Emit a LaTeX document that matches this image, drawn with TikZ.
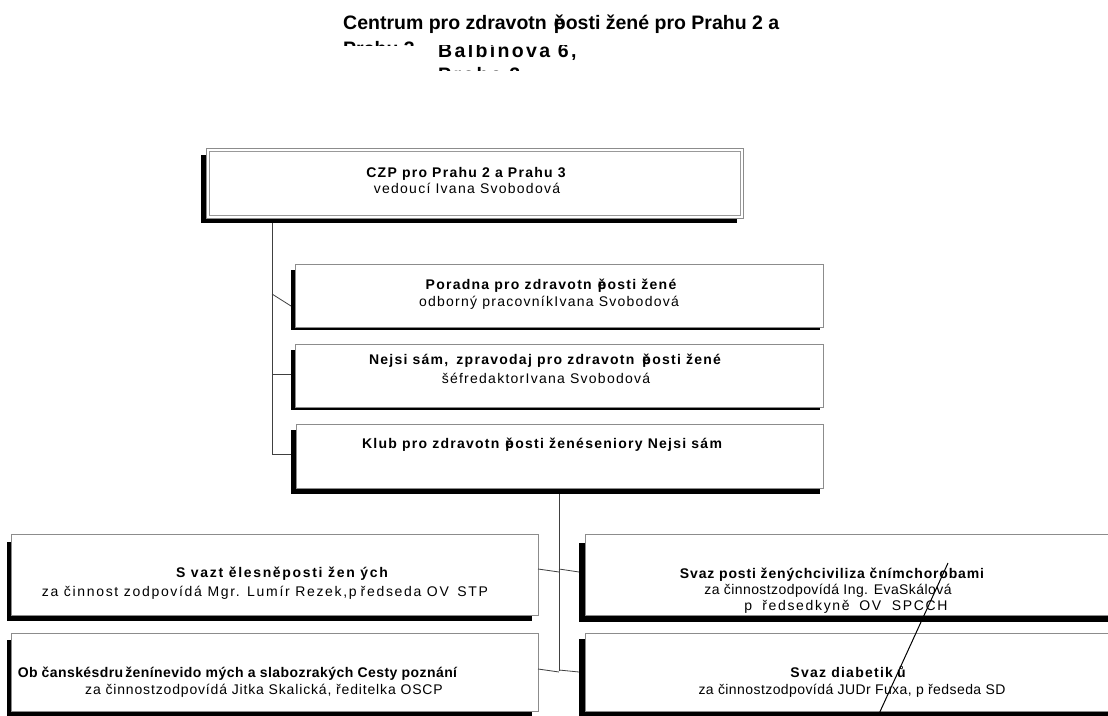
\documentclass[tikz,border=0pt]{standalone}
\usepackage{fontspec}
\setmainfont{Liberation Sans}
\newfontfamily\boxfont[LetterSpace=9]{Liberation Sans}
\newfontfamily\boxfontA[LetterSpace=3]{Liberation Sans}
\newfontfamily\boxfontB[LetterSpace=6]{Liberation Sans}
\newfontfamily\boxfontC[LetterSpace=12]{Liberation Sans}
\newfontfamily\headfont[LetterSpace=0]{Liberation Sans}
\newfontfamily\headfontwide[LetterSpace=12]{Liberation Sans}
\usetikzlibrary{backgrounds,calc}
\tikzset{
  orgbox/.style={draw=black!45, line width=0.9pt, fill=white, inner sep=0pt, outer sep=0pt},
  ttl/.style={font=\boxfont\fontsize{14}{16}\selectfont\bfseries, inner sep=0pt, anchor=base},
  sub/.style={font=\boxfont\fontsize{14}{16}\selectfont, inner sep=0pt, anchor=base},
  ttltight/.style={ttl, font=\boxfontA\fontsize{14}{16}\selectfont\bfseries},
  ttlmid/.style={ttl, font=\boxfontB\fontsize{14}{16}\selectfont\bfseries},
  ttlwide/.style={ttl, font=\boxfontC\fontsize{14}{16}\selectfont\bfseries},
  subtight/.style={sub, font=\boxfontA\fontsize{14}{16}\selectfont},
  submid/.style={sub, font=\boxfontB\fontsize{14}{16}\selectfont},
  subwide/.style={sub, font=\boxfontC\fontsize{14}{16}\selectfont},
  headline/.style={font=\headfont\fontsize{19.5}{24}\selectfont\bfseries, inner sep=0pt, anchor=base west},
  headwide/.style={headline, font=\headfontwide\fontsize{19.5}{24}\selectfont\bfseries},
  conn/.style={draw=black!75, line width=0.8pt},
  slash/.style={draw=black, line width=1pt}
}
\begin{document}
\begin{tikzpicture}[x=1pt,y=-1pt]
\useasboundingbox (0,0) rectangle (1108,715);

% headline (two overlapping text boxes)
\begin{scope}
  \clip (330,2) rectangle (800,45.5);
  \node[headline] (h1) at (343,29) {Centrum pro zdravotn\hspace{7pt}\rlap{ě}posti žené pro Prahu 2 a};
  \node[headline] (h2) at (343,55) {Prahu 3};
\end{scope}
\begin{scope}
  \clip (430,45.5) rectangle (800,70.5);
  \node[headwide] (h3) at (438,57) {Balbínova 6,};
  \node[headwide] (h4) at (438,81) {Praha 2};
\end{scope}

% boxes
\node[orgbox, minimum width=537pt, minimum height=70pt] (czp) at (474.5,183) {};
\draw[draw=black!40, line width=0.7pt] ($(czp.north west)+(3,3.5)$) rectangle ($(czp.south east)+(-3,-3)$);
\node[orgbox, minimum width=528pt, minimum height=63pt] (poradna) at (559,295.5) {};
\node[orgbox, minimum width=528pt, minimum height=63pt] (nejsi) at (559,375.5) {};
\node[orgbox, minimum width=527pt, minimum height=64pt] (klub) at (559.5,456) {};
\node[orgbox, minimum width=527pt, minimum height=81pt] (stp) at (274.5,575) {};
\node[orgbox, minimum width=527pt, minimum height=78pt] (oscp) at (274.5,672) {};
\node[orgbox, minimum width=535pt, minimum height=81pt] (spcch) at (852.5,575) {};
\node[orgbox, minimum width=535pt, minimum height=78pt] (sd) at (852.5,672) {};

% page background and shadows
\begin{scope}[on background layer]
  \fill[white] (0,0) rectangle (1108,715);
  \fill ($(czp.north west)+(-5,7)$) rectangle ($(czp.south east)+(-6,5)$);
  \fill ($(poradna.north west)+(-4,6)$) rectangle ($(poradna.south east)+(-3,3)$);
  \fill ($(nejsi.north west)+(-4,6)$) rectangle ($(nejsi.south east)+(-3,2.5)$);
  \fill ($(klub.north west)+(-5,6)$) rectangle ($(klub.south east)+(-3,6)$);
  \fill ($(stp.north west)+(-4,7)$) rectangle ($(stp.south east)+(-6,5)$);
  \fill ($(oscp.north west)+(-4,7)$) rectangle ($(oscp.south east)+(-6,5)$);
  \fill ($(spcch.north west)+(-6,8)$) rectangle ($(spcch.south east)+(-6,6)$);
  \fill ($(sd.north west)+(-6,6)$) rectangle ($(sd.south east)+(-6,5)$);
\end{scope}

% texts
\node[ttl] (czpT) at (466,177) {CZP pro Prahu 2 a Prahu 3};
\node[sub] (czpS) at (467,193) {vedoucí Ivana Svobodová};

\node[ttl] (porT) at (551,289) {Poradna pro zdravotn\hspace{6pt}\rlap{ě}posti žené};
\node[sub] (porS) at (549,306) {odborný pracovníkIvana Svobodová};

\node[ttl] (nejT) at (545,364) {Nejsi sám,\hspace{3pt} zpravodaj pro zdravotn\hspace{8pt}\rlap{ě}posti žené};
\node[sub] (nejS) at (546,383) {šéfredaktorIvana Svobodová};

\node[ttl] (klubT) at (542,448) {Klub pro zdravotn\hspace{6pt}\rlap{ě}posti ženéseniory Nejsi sám};

\node[ttlwide] (stpT) at (282,577) {S vazt ělesněposti žen ých};
\node[subwide] (stpS) at (265,596) {za činnost zodpovídá Mgr. Lumír Rezek,p\hspace{4pt}ředseda OV\hspace{3pt} STP};

\node[ttltight] (oscpT) at (237.5,677) {Ob\hspace{4pt}čanskésdru\hspace{2pt}ženínevido mých a slabozrakých Cesty poznání};
\node[submid] (oscpS) at (264,694) {za činnostzodpovídá Jitka Skalická, ředitelka OSCP};

\node[ttlmid] (spcchT) at (832,578) {Svaz posti ženýchciviliza čnímchorobami};
\node[subtight] (spcchS1) at (828,594) {za činnostzodpovídá Ing. EvaSkálová};
\node[subwide] (spcchS2) at (846,610) {p\hspace{10pt}ředsedkyně\hspace{4pt} OV\hspace{5pt} SPCCH};

\node[ttl] (sdT) at (848,677) {Svaz diabetik\hspace{4pt}ů};
\node[subtight] (sdS) at (852,694) {za činnostzodpovídá JUDr Fuxa, p ředseda SD};

% connectors
\coordinate (ta) at (272,223);
\coordinate (tp) at (272,294);
\coordinate (tn) at (272,374);
\coordinate (tk) at (272,454);
\coordinate (ep) at (291,306);
\coordinate (en) at (291,374);
\coordinate (ek) at (291,454);
\draw[conn] (ta) -- (tk);
\draw[conn] (tp) -- (ep);
\draw[conn] (tn) -- (en);
\draw[conn] (tk) -- (ek);

\coordinate (ka) at (559,494);
\coordinate (kz) at (559,671);
\coordinate (k1l) at (559,572);
\coordinate (k1r) at (559,569);
\coordinate (k2l) at (559,672);
\coordinate (k2r) at (559,670);
\coordinate (s1) at (538,569);
\coordinate (s2) at (538,669);
\coordinate (r1) at (579,572);
\coordinate (r2) at (579,672);
\draw[conn] (ka) -- (kz);
\draw[conn] (s1) -- (k1l);
\draw[conn] (k1r) -- (r1);
\draw[conn] (s2) -- (k2l);
\draw[conn] (k2r) -- (r2);

% stray diagonal line
\coordinate (d1) at (948,563);
\coordinate (d2) at (878,716);
\draw[slash] (d1) -- (d2);
\end{tikzpicture}
\end{document}
